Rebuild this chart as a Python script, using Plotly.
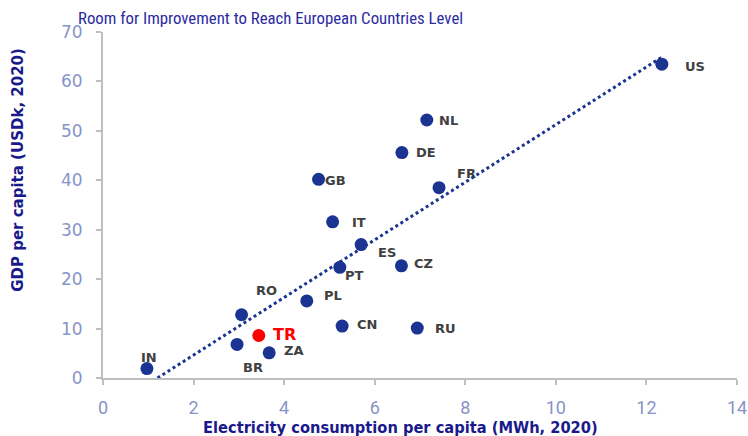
import numpy as np
import plotly.graph_objects as go

countries = ["US", "NL", "DE", "GB", "FR", "IT", "ES", "CZ", "PT", "PL", "CN", "RU", "RO", "TR", "BR", "ZA", "IN"]
elec_mwh = [12.34, 7.15, 6.60, 4.76, 7.42, 5.07, 5.70, 6.59, 5.23, 4.50, 5.28, 6.94, 3.06, 3.44, 2.96, 3.67, 0.97]
gdp_usdk = [63.5, 52.2, 45.6, 40.2, 38.5, 31.6, 27.0, 22.7, 22.4, 15.6, 10.5, 10.1, 12.8, 8.6, 6.8, 5.1, 1.9]
x_ticks = [0, 2, 4, 6, 8, 10, 12, 14]
y_ticks = [0, 10, 20, 30, 40, 50, 60, 70]

# label placement (pixel offsets from the marker centre: right, up)
label_offset = {
    "US": (33, -2), "NL": (22, -1), "DE": (24, 0), "GB": (17, -1), "FR": (27, 14),
    "IT": (26, -1), "ES": (26, -8), "CZ": (22, 2), "PT": (15, -8), "PL": (26, 5),
    "CN": (25, 2), "RU": (28, 0), "RO": (25, 24), "TR": (26, 1), "BR": (16, -23),
    "ZA": (25, 2), "IN": (2, 11),
}

NAVY = "#1b3491"
fig = go.Figure()

# linear trendline (least squares), drawn from y=0 to the largest x
slope, intercept = np.polyfit(elec_mwh, gdp_usdk, 1)
x0 = -intercept / slope
x1 = max(elec_mwh)
fig.add_trace(go.Scatter(x=[x0, x1], y=[slope * x0 + intercept, slope * x1 + intercept],
                         mode="lines", line=dict(color=NAVY, width=3, dash="dot"),
                         hoverinfo="skip", showlegend=False))

colors = ["#ff0000" if c == "TR" else NAVY for c in countries]
fig.add_trace(go.Scatter(x=elec_mwh, y=gdp_usdk, mode="markers",
                         marker=dict(color=colors, size=13),
                         showlegend=False, cliponaxis=False))

for c, xv, yv in zip(countries, elec_mwh, gdp_usdk):
    dx, dy = label_offset[c]
    is_tr = c == "TR"
    fig.add_annotation(x=xv, y=yv, text="<b>%s</b>" % c, showarrow=False,
                       xanchor="center", yanchor="middle", xshift=dx, yshift=dy,
                       font=dict(family="DejaVu Sans", size=16 if is_tr else 13,
                                 color="#ff0000" if is_tr else "#404040"))

PLOT_L, PLOT_R, PLOT_T, PLOT_B = 103, 737, 32, 378.5
pw, ph = PLOT_R - PLOT_L, PLOT_B - PLOT_T

fig.add_annotation(xref="paper", yref="paper", x=(400 - PLOT_L) / pw, y=(PLOT_B - 428) / ph,
                   text="<b>Electricity consumption per capita (MWh, 2020)</b>", showarrow=False,
                   xanchor="center", yanchor="middle",
                   font=dict(family="DejaVu Sans Condensed, DejaVu Sans", size=16.3, color="#1a1a8c"))
fig.add_annotation(xref="paper", yref="paper", x=(18 - PLOT_L) / pw, y=(PLOT_B - 170) / ph,
                   text="<b>GDP per capita (USDk, 2020)</b>", showarrow=False, textangle=-90,
                   xanchor="center", yanchor="middle",
                   font=dict(family="DejaVu Sans", size=15, color="#1a1a8c"))

fig.update_layout(
    width=748, height=436,
    margin=dict(l=PLOT_L, r=748 - PLOT_R, t=PLOT_T, b=436 - PLOT_B),
    paper_bgcolor="white", plot_bgcolor="white",
    title=dict(text="Room for Improvement to Reach European Countries Level",
               x=78 / 748, xanchor="left", y=1 - 18 / 436, yanchor="middle",
               font=dict(family="Liberation Sans Narrow, Roboto Condensed, Roboto", size=16.8, color="#2b2ba3")),
    xaxis=dict(range=[0, 14], tickvals=x_ticks, showgrid=False, zeroline=False, automargin=False,
               showline=True, linecolor="#bfbfbf", linewidth=2,
               ticks="outside", tickcolor="#bfbfbf", ticklen=5, tickwidth=2, ticklabelstandoff=7,
               tickfont=dict(family="Liberation Sans Narrow, Roboto", size=18, color="#8794c8")),
    yaxis=dict(range=[0, 70], tickvals=y_ticks, showgrid=False, zeroline=False, automargin=False,
               showline=True, linecolor="#bfbfbf", linewidth=2,
               ticks="outside", tickcolor="#bfbfbf", ticklen=5, tickwidth=2, ticklabelstandoff=10,
               tickfont=dict(family="DejaVu Sans", size=17, color="#8794c8")),
)

fig.write_html("out.html", config={"displayModeBar": False},
               post_script="document.body.style.margin='0';document.body.style.overflow='hidden';")
